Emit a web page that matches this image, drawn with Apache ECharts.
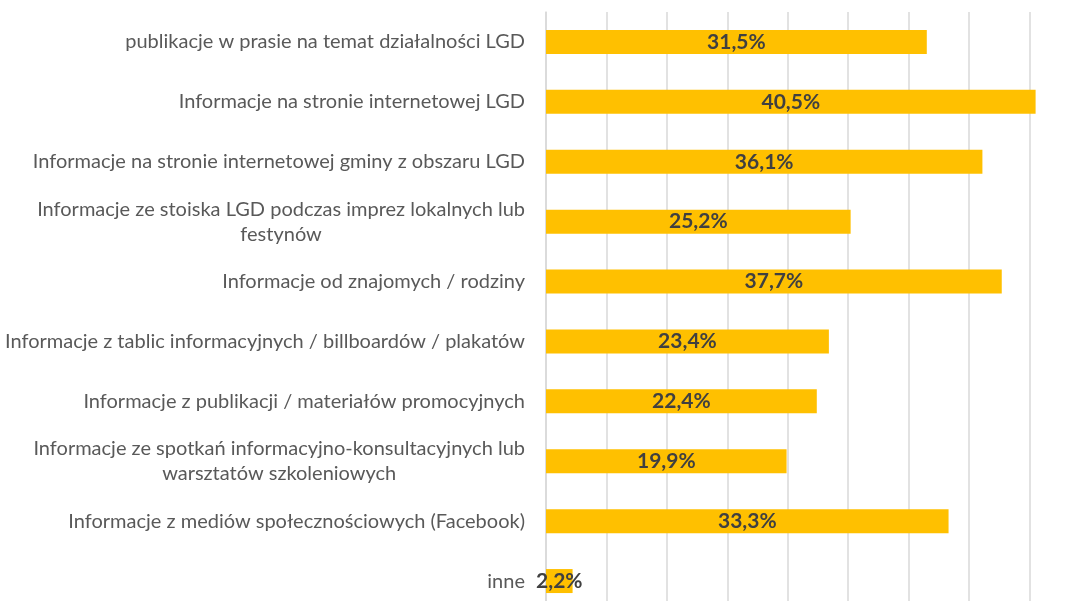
<!DOCTYPE html>
<html><head><meta charset="utf-8">
<script src="https://cdn.jsdelivr.net/npm/echarts@6/dist/echarts.min.js"></script>
<style>html,body{margin:0;padding:0;background:#fff}#c{width:1078px;height:601px}</style>
</head><body><div id="c"></div>
<script>
const categories = [
  "publikacje w prasie na temat działalności LGD",
  "Informacje na stronie internetowej LGD",
  "Informacje na stronie internetowej gminy z obszaru LGD",
  "Informacje ze stoiska LGD podczas imprez lokalnych lub\nfestynów",
  "Informacje od znajomych / rodziny",
  "Informacje z tablic informacyjnych / billboardów / plakatów",
  "Informacje z publikacji / materiałów promocyjnych",
  "Informacje ze spotkań informacyjno-konsultacyjnych lub\nwarsztatów szkoleniowych",
  "Informacje z mediów społecznościowych (Facebook)",
  "inne"
];
const values = [31.5, 40.5, 36.1, 25.2, 37.7, 23.4, 22.4, 19.9, 33.3, 2.2];

const chart = echarts.init(document.getElementById('c'), null, {renderer: 'canvas'});
chart.setOption({
  animation: false,
  grid: {left: 546, top: 12, width: 544, height: 599, containLabel: false, outerBoundsMode: 'none'},
  xAxis: {
    type: 'value', min: 0, max: 45, interval: 5,
    axisLabel: {show: false}, axisLine: {show: false}, axisTick: {show: false},
    splitLine: {show: true, lineStyle: {color: '#d9d9d9', width: 1.5}}
  },
  yAxis: {
    type: 'category', data: categories, inverse: true,
    axisLine: {show: true, lineStyle: {color: '#d9d9d9', width: 1.5}},
    axisTick: {show: false},
    axisLabel: {
      margin: 21, align: 'right',
      formatter: v => v.split('\n').map(l => '{c|' + l + '}').join('\n'),
      rich: {
        c: {color: '#595959', fontFamily: 'Lato', fontSize: 20, lineHeight: 25, align: 'center'}
      }
    }
  },
  series: [{
    type: 'bar', data: values, barWidth: 24,
    itemStyle: {color: '#FFC000'},
    label: {
      show: true, position: 'inside', color: '#404040',
      fontFamily: 'Lato', fontWeight: 'bold', fontSize: 21,
      formatter: p => String(p.value).replace('.', ',') + '%'
    }
  }]
});
</script></body></html>
